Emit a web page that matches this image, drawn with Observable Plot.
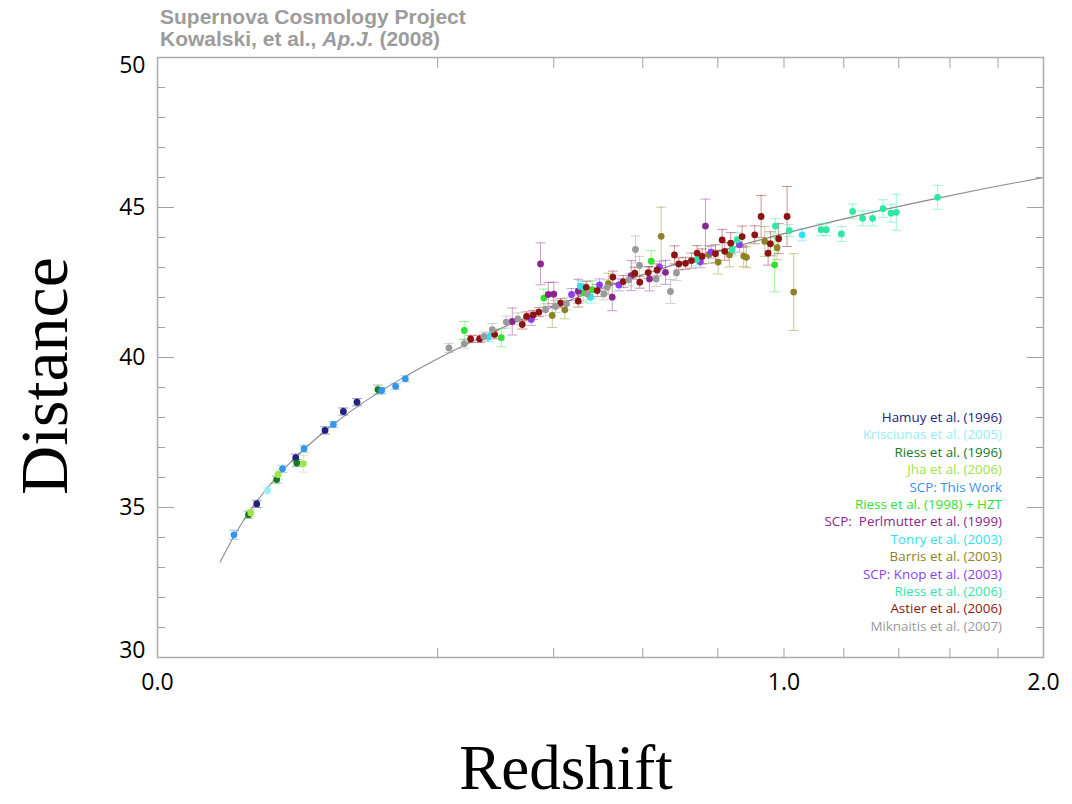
<!DOCTYPE html>
<html>
<head>
<meta charset="utf-8">
<script src="https://cdn.jsdelivr.net/npm/d3@7"></script>
<script src="https://cdn.jsdelivr.net/npm/@observablehq/plot@0.6"></script>
<style>
  body { margin: 0; background: #fff; }
  #wrap { position: relative; width: 1072px; height: 804px; overflow: hidden; background: #fff; }
  #title { position: absolute; left: 160px; top: 6px; font-family: "Liberation Sans", Arial, sans-serif;
           font-weight: bold; font-size: 21px; line-height: 21.7px; color: #9c9c9c; white-space: nowrap; }
  #legend { position: absolute; right: 70px; top: 409px; font-family: "Open Sans", sans-serif;
            font-size: 13.4px; line-height: 17.4px; text-align: right; white-space: nowrap; }
  .serif { position: absolute; font-family: "Liberation Serif", "Times New Roman", serif; font-size: 68px;
           line-height: 1; white-space: nowrap; color: #000; }
  #ylab { left: 44px; top: 376px; transform: translate(-50%, -50%) rotate(-90deg); }
  #xlab { left: 566px; top: 744px; height: 48px; line-height: 48px; transform: translateX(-50%); font-size: 63px; }
  #plot { position: absolute; left: 0; top: 0; }
</style>
</head>
<body>
<div id="wrap">
  <div id="plot"></div>
  <div id="title">Supernova Cosmology Project<br>Kowalski, et al., <i>Ap.J.</i> (2008)</div>
  <div id="legend"></div>
  <div class="serif" id="ylab">Distance</div>
  <div class="serif" id="xlab">Redshift</div>
</div>
<script>
// ---- data: [redshift, distance modulus, error] ----
const hamuy      = [[0.0251,35.12,0.12],[0.0487,36.66,0.12],[0.0715,37.57,0.12],[0.0880,38.20,0.12],[0.1014,38.51,0.12]];
const krisciunas = [[0.0308,35.57,0.12]];
const riess96    = [[0.0211,34.76,0.12],[0.0362,35.93,0.12],[0.0494,36.48,0.12],[0.1238,38.93,0.15]];
const jha        = [[0.0222,34.82,0.12],[0.0370,36.10,0.15],[0.0542,36.46,0.28]];
const scpThis    = [[0.0149,34.09,0.15],[0.0398,36.29,0.12],[0.0547,36.96,0.12],[0.0788,37.77,0.10],[0.1280,38.90,0.10],[0.1445,39.04,0.10],[0.1565,39.29,0.10]];
const riess98    = [[0.2398,40.90,0.30],[0.3011,40.66,0.30],[0.3803,41.98,0.30],[0.4618,42.16,0.30],[0.4815,42.26,0.30],[0.6210,43.21,0.35],[0.9705,43.09,0.90]];
const perlmutter = [[0.3207,41.20,0.45],[0.3738,43.12,0.70],[0.3890,42.10,0.40],[0.4002,42.11,0.40],[0.4510,42.21,0.40],[0.5268,42.01,0.45],[0.5717,42.73,0.50],[0.6167,42.62,0.40],[0.6574,42.84,0.40],[0.7650,44.38,0.90]];
const tonry      = [[0.2788,40.68,0.15],[0.4559,42.37,0.20],[0.4778,42.01,0.20],[1.0586,44.09,0.20]];
const barris     = [[0.3970,41.40,0.40],[0.4227,41.59,0.30],[0.5180,42.46,0.35],[0.6464,44.04,0.97],[0.7742,43.43,0.30],[0.8008,43.18,0.40],[0.8334,43.42,0.40],[0.8756,43.38,0.35],[0.8837,43.34,0.35],[0.9394,43.87,0.50],[0.9781,43.66,0.40],[1.0312,42.18,1.28]];
const knop       = [[0.3559,41.27,0.20],[0.4368,42.10,0.20],[0.4978,42.42,0.20],[0.5422,42.42,0.20],[0.6420,43.01,0.20],[0.7510,43.19,0.20],[0.7810,43.51,0.20],[0.8628,43.76,0.25]];
const riess06    = [[0.7401,43.26,0.20],[0.8413,43.59,0.20],[0.8560,43.92,0.25],[0.9727,44.38,0.25],[1.0173,44.23,0.20],[1.1219,44.26,0.20],[1.1398,44.26,0.20],[1.1915,44.12,0.25],[1.2312,44.87,0.25],[1.2668,44.64,0.25],[1.3030,44.64,0.25],[1.3412,44.96,0.30],[1.3709,44.81,0.30],[1.3907,44.84,0.60],[1.5505,45.34,0.40]];
const astier     = [[0.2498,40.62,0.12],[0.2643,40.62,0.12],[0.2895,40.77,0.15],[0.3390,41.10,0.15],[0.3470,41.37,0.15],[0.3597,41.42,0.15],[0.3705,41.51,0.15],[0.4139,41.81,0.15],[0.4510,41.88,0.20],[0.4683,42.34,0.20],[0.4926,42.23,0.20],[0.5282,42.68,0.20],[0.5526,42.53,0.20],[0.5804,42.81,0.20],[0.5926,42.51,0.20],[0.6134,42.83,0.20],[0.6361,42.92,0.20],[0.6809,43.42,0.30],[0.6923,43.12,0.20],[0.7102,43.14,0.20],[0.7264,43.23,0.25],[0.7420,43.48,0.25],[0.7558,43.37,0.25],[0.7931,43.46,0.30],[0.8123,43.92,0.35],[0.8198,43.54,0.30],[0.8372,43.81,0.35],[0.8708,44.03,0.35],[0.9088,44.09,0.30],[0.9283,44.70,0.70],[0.9499,43.48,0.40],[0.9571,43.79,0.40],[0.9831,43.96,0.50],[1.0099,44.70,1.00]];
const miknaitis  = [[0.2164,40.32,0.15],[0.2398,40.46,0.15],[0.2714,40.70,0.15],[0.2856,40.93,0.20],[0.3099,41.18,0.20],[0.3309,41.29,0.20],[0.3837,41.59,0.20],[0.4037,41.70,0.20],[0.4263,41.79,0.20],[0.4705,42.12,0.20],[0.5075,42.12,0.20],[0.5153,42.34,0.25],[0.5659,42.59,0.20],[0.5821,43.60,0.45],[0.5919,43.07,0.30],[0.6336,42.62,0.25],[0.6704,42.20,0.40],[0.6862,42.82,0.25]];

// model curve
const modelZ  = [0.01,0.015,0.02,0.03,0.04,0.05,0.07,0.1,0.15,0.2,0.25,0.3,0.4,0.5,0.6,0.7,0.8,1.0,1.25,1.5,1.75,2.0];
const modelMu = [33.18,34.06,34.70,35.60,36.24,36.74,37.50,38.32,39.27,39.96,40.51,40.97,41.70,42.28,42.76,43.17,43.53,44.13,44.73,45.22,45.64,46.00];

const setNames = ["Hamuy et al. (1996)","Krisciunas et al. (2005)","Riess et al. (1996)","Jha et al. (2006)","SCP: This Work",
  "Riess et al. (1998) + HZT","SCP:  Perlmutter et al. (1999)","Tonry et al. (2003)","Barris et al. (2003)","SCP: Knop et al. (2003)",
  "Riess et al. (2006)","Astier et al. (2006)","Miknaitis et al. (2007)"];
const setColors = ["#22227e","#96eef6","#157a26","#9ee44e","#3694ea","#2ee22e","#8a268c","#2ee2f0","#8c8424","#8a3eec","#2ee8a2","#8c1414","#9a9a9a"];
const setData = [hamuy,krisciunas,riess96,jha,scpThis,riess98,perlmutter,tonry,barris,knop,riess06,astier,miknaitis];

const xTicks = [0,1,2];
const xMinor = [0,0.2,0.4,0.6,0.8,1.0,1.2,1.4,1.6,1.8,2.0];
const yMajor = [30,35,40,45,50];
const yMinor = d3.range(30,51,1);

// ---- build table ----
const rows = setData.flatMap((arr, i) => arr.map(([z, mu, err]) => ({z, mu, err, set: setNames[i]})));
const model = modelZ.map((z, i) => ({z, mu: modelMu[i]}));

const cap = { draw(ctx, size) { const w = Math.sqrt(size / Math.PI); ctx.moveTo(-w, 0); ctx.lineTo(w, 0); } };
const tickCol = "#a0a0a0";

const chart = Plot.plot({
  width: 1072, height: 804,
  marginLeft: 157, marginRight: 29, marginTop: 57, marginBottom: 147,
  style: { fontFamily: "'Open Sans', sans-serif", background: "white", color: "#000" },
  x: { type: "sqrt", domain: [0, 2], label: null },
  y: { domain: [30, 50], label: null },
  color: { domain: setNames, range: setColors, legend: false },
  marks: [
    Plot.line(model, { x: "z", y: "mu", stroke: "#8a8a8a", strokeWidth: 1.1, curve: "monotone-x" }),
    Plot.ruleX(rows, { x: "z", y1: d => d.mu - d.err, y2: d => d.mu + d.err, stroke: "set", strokeOpacity: 0.45, strokeWidth: 1 }),
    Plot.dot(rows, { x: "z", y: d => d.mu + d.err, symbol: cap, r: 5, stroke: "set", strokeOpacity: 0.45, fill: "none", strokeWidth: 1 }),
    Plot.dot(rows, { x: "z", y: d => d.mu - d.err, symbol: cap, r: 5, stroke: "set", strokeOpacity: 0.45, fill: "none", strokeWidth: 1 }),
    Plot.dot(rows, { x: "z", y: "mu", r: 3.4, fill: "set", stroke: "none" }),
    // inward ticks
    Plot.axisY({ ticks: yMinor, tickSize: 8, dx: 8, tickFormat: () => "", stroke: tickCol, label: null }),
    Plot.axisY({ ticks: yMajor, tickSize: 17, dx: 17, tickFormat: () => "", stroke: tickCol, label: null }),
    Plot.axisY({ anchor: "right", ticks: yMinor, tickSize: 8, dx: -8, tickFormat: () => "", stroke: tickCol, label: null }),
    Plot.axisY({ anchor: "right", ticks: yMajor, tickSize: 17, dx: -17, tickFormat: () => "", stroke: tickCol, label: null }),
    Plot.axisX({ ticks: xMinor, tickSize: 9, dy: -9, tickFormat: () => "", stroke: tickCol, label: null }),
    Plot.axisX({ anchor: "top", ticks: xMinor, tickSize: 10, dy: 10, tickFormat: () => "", stroke: tickCol, label: null }),
    // tick labels
    Plot.axisY({ ticks: [35, 40, 45], tickSize: 0, tickPadding: 12, fontSize: 23, label: null }),
    Plot.axisY({ ticks: [50], tickSize: 0, tickPadding: 12, fontSize: 23, dy: 8, label: null }),
    Plot.axisY({ ticks: [30], tickSize: 0, tickPadding: 12, fontSize: 23, dy: -7, label: null }),
    Plot.axisX({ ticks: xTicks, tickSize: 0, tickPadding: 16, fontSize: 23, tickFormat: d3.format(".1f"), label: null }),
    Plot.frame({ stroke: "#ababab", strokeWidth: 1.5 })
  ]
});
document.getElementById("plot").appendChild(chart);

const leg = document.getElementById("legend");
setNames.forEach((n, i) => {
  const d = document.createElement("div");
  d.textContent = n;
  d.style.color = setColors[i];
  d.style.whiteSpace = "pre";
  leg.appendChild(d);
});
</script>
</body>
</html>
